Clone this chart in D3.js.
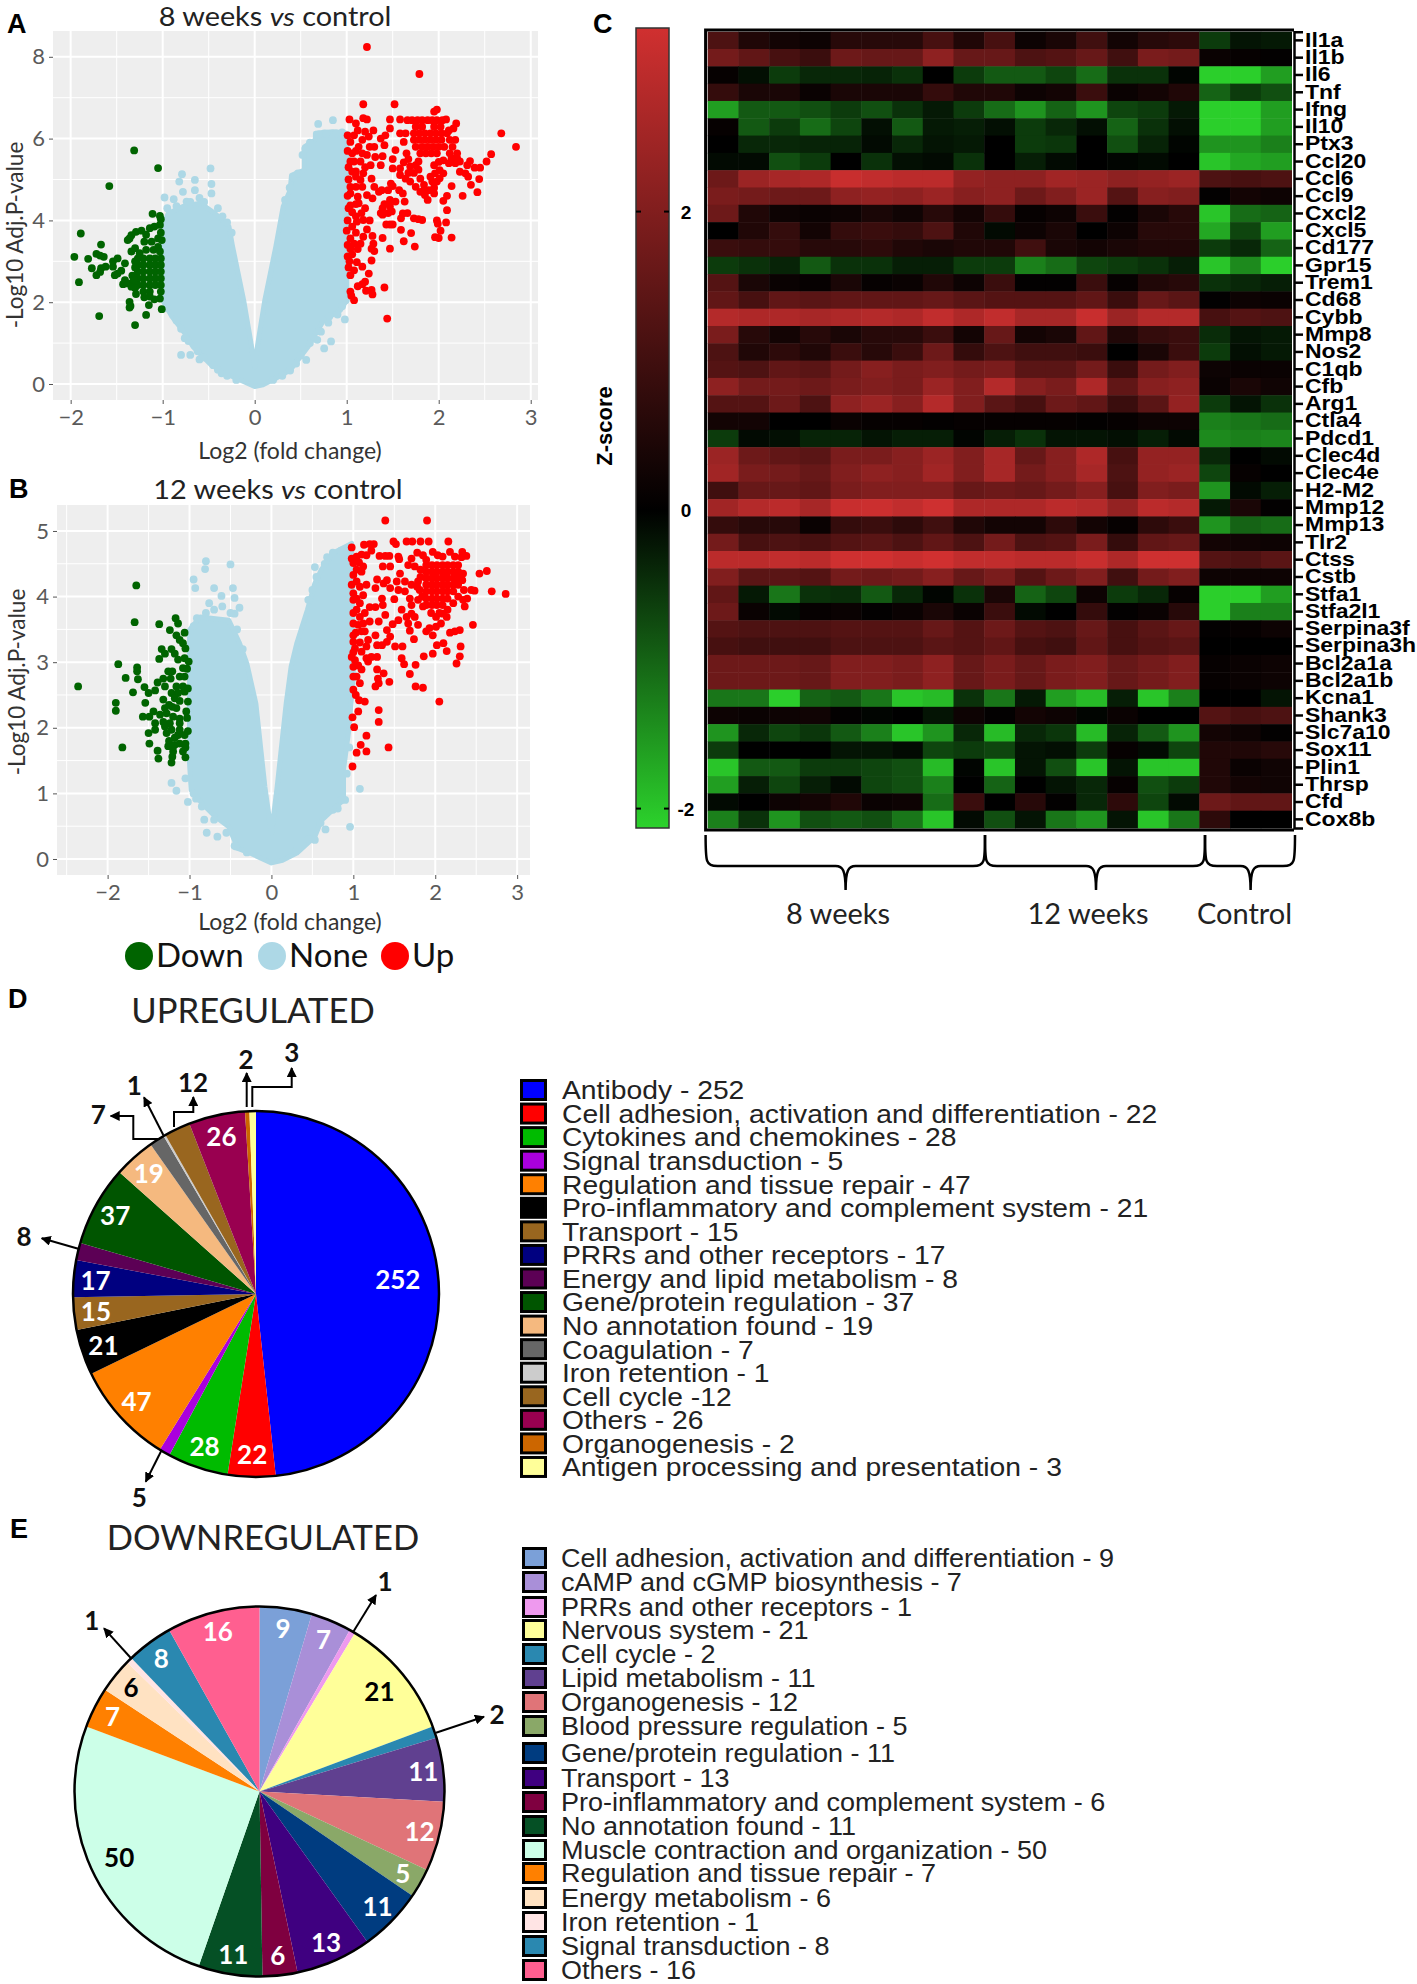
<!DOCTYPE html>
<html>
<head>
<meta charset="utf-8">
<script src="https://cdnjs.cloudflare.com/ajax/libs/d3/7.8.5/d3.min.js"></script>
<style>
  body { margin: 0; background: #fff; }
  text { font-family: Lato, sans-serif; }
  .arial { font-family: "Liberation Sans", Arial, sans-serif; }
</style>
</head>
<body>
<div id="chart"></div>
<script>
// ---- volcano A, 8 weeks: [log2fc, -log10 p]
var upA = [[1.22,8.24],[1.79,7.58],[1.18,6.84],[1.52,6.84],[1.98,6.71],[1.95,6.66],[1.03,6.47],[1.10,6.37],[1.18,6.50],[1.22,6.47],[1.47,6.47],[1.58,6.47],[2.68,6.13],[2.84,5.80],[2.57,5.62],[2.52,5.44],[2.45,5.29],[2.39,5.29],[2.34,5.45],[2.31,5.35],[2.44,5.01],[2.42,4.69],[2.35,4.87],[2.32,5.07],[2.29,5.15],[2.23,5.19],[2.14,4.84],[2.26,4.60],[2.09,4.60],[2.05,4.48],[2.09,4.25],[2.08,3.95],[1.98,4.0],[1.99,3.92],[2.02,3.75],[2.14,3.58],[2.0,3.57],[1.96,3.59],[1.74,3.36],[1.62,3.49],[1.70,3.69],[1.59,3.77],[1.47,3.9],[1.5,3.9],[1.43,3.9],[1.39,3.57],[1.47,3.31],[1.27,3.02],[1.17,2.87],[1.24,2.70],[1.41,2.36],[1.44,1.6],[1.08,2.05],[1.05,2.16],[1.04,2.26],[1.12,2.39],[1.17,2.44],[1.2,2.5],[1.21,2.28],[1.27,2.3],[1.28,2.19],[1.04,2.66],[1.08,2.78],[1.11,2.98],[1.01,3.12],[1.06,3.17],[1.27,3.31],[1.3,3.25],[1.29,3.43],[1.28,3.62],[1.04,3.31],[1.08,3.43],[1.04,3.56],[1.15,3.43],[1.18,3.6],[1.22,3.78],[1.06,3.85],[1.01,4.0],[1.11,3.97],[1.25,4.0],[1.18,4.01],[1.16,4.18],[1.2,4.3],[1.06,4.2],[1.04,4.37],[1.13,4.42],[1.28,4.54],[1.35,4.7],[1.38,4.74],[1.22,4.62],[1.3,4.82],[1.27,5.02],[1.12,4.58],[1.04,4.66],[1.1,4.82],[1.17,4.82],[1.15,4.99],[1.1,5.07],[1.04,4.82],[1.06,5.19],[1.15,5.44],[1.08,5.44],[1.04,5.44],[1.17,5.64],[1.06,5.64],[1.13,5.8],[1.04,5.92],[1.01,6.08],[1.08,6.08],[1.17,5.97],[1.2,6.17],[1.29,6.2],[1.24,6.05],[1.3,5.8],[1.31,5.55],[1.26,5.35],[1.39,5.57],[1.37,5.35],[1.41,5.84],[1.37,6.0],[1.42,6.08],[1.47,6.25],[1.53,5.72],[1.5,5.5],[1.5,5.27],[1.58,6.13],[1.64,6.13],[1.62,5.92],[1.66,6.45],[1.71,6.45],[1.77,6.45],[1.82,6.45],[1.88,6.45],[1.93,6.45],[1.98,6.45],[2.04,6.45],[2.08,6.47],[2.19,6.37],[2.16,6.25],[2.11,6.2],[2.02,6.29],[1.75,6.29],[1.82,6.29],[1.95,6.29],[1.73,6.13],[1.79,6.13],[1.85,6.13],[1.91,6.13],[1.97,6.13],[2.03,6.13],[2.09,6.13],[1.73,5.97],[1.79,5.97],[1.85,5.97],[1.91,5.97],[1.97,5.97],[2.03,5.97],[2.12,5.97],[2.18,5.97],[1.75,5.8],[1.82,5.8],[1.88,5.8],[1.94,5.8],[2.0,5.8],[2.06,5.8],[2.15,5.8],[1.65,5.64],[1.8,5.64],[1.86,5.64],[1.92,5.64],[1.98,5.64],[2.12,5.64],[2.2,5.64],[1.67,5.5],[1.62,5.42],[1.58,5.27],[1.58,5.11],[1.64,5.02],[1.69,4.95],[1.75,4.82],[1.8,4.7],[1.85,4.62],[1.88,4.5],[1.95,4.66],[1.84,4.74],[1.69,5.32],[1.75,5.35],[1.78,5.24],[1.73,5.16],[1.8,5.02],[1.78,5.44],[1.84,4.87],[1.67,5.16],[1.95,5.35],[2.0,5.43],[2.05,5.47],[2.14,5.52],[2.2,5.52],[2.23,5.44],[2.18,5.4],[2.11,5.4],[2.01,5.23],[1.96,5.15],[1.93,4.95],[1.98,4.95],[2.01,5.03],[2.05,5.15],[1.95,4.8],[1.89,4.74],[1.91,5.07],[1.48,4.9],[1.5,4.84],[1.45,4.74],[1.47,4.5],[1.41,4.4],[1.53,4.46],[1.39,4.3],[1.47,4.34],[1.37,4.18],[1.39,4.14],[1.45,4.18],[1.49,4.22],[1.57,4.74],[1.61,4.66],[1.63,4.46],[1.61,4.17],[1.59,4.05],[1.66,4.18],[1.73,4.05],[1.78,4.03],[1.82,4.01],[1.01,5.7],[1.02,5.3],[1.02,5.0],[1.01,4.6],[1.02,4.3],[1.0,3.75],[1.01,3.4],[1.03,3.0],[1.02,2.85],[1.1,5.7],[1.1,5.2],[1.1,4.4],[1.1,4.1],[1.1,3.7],[1.12,3.3],[1.22,5.6],[1.25,5.8],[1.12,6.2],[1.2,5.3],[1.18,5.15]];
var downA = [[-1.31,5.71],[-1.05,5.28],[-1.58,4.84],[-1.11,4.16],[-1.03,4.11],[-1.02,4.03],[-1.89,3.68],[-1.67,3.41],[-1.96,3.11],[-1.81,3.06],[-1.72,3.18],[-1.68,3.14],[-1.64,3.11],[-1.77,2.83],[-1.91,2.49],[-1.69,1.66],[-1.3,1.44],[-1.18,1.69],[-1.01,1.83],[-1.15,1.93],[-1.36,2.01],[-1.35,1.91],[-1.36,1.87],[-1.72,2.66],[-1.68,2.74],[-1.67,2.83],[-1.62,2.87],[-1.52,2.66],[-1.49,2.7],[-1.45,2.77],[-1.54,2.87],[-1.54,3.0],[-1.49,3.07],[-1.41,2.95],[-1.38,3.52],[-1.34,3.64],[-1.36,3.56],[-1.29,3.72],[-1.23,3.75],[-1.14,3.81],[-1.09,3.85],[-1.03,3.89],[-1.18,3.65],[-1.2,3.48],[-1.12,3.48],[-1.05,3.56],[-1.01,3.52],[-1.34,3.24],[-1.3,3.32],[-1.25,3.2],[-1.18,3.28],[-1.1,3.28],[-1.03,3.24],[-1.27,3.07],[-1.21,3.07],[-1.14,3.07],[-1.08,3.07],[-1.02,3.07],[-1.27,2.91],[-1.21,2.91],[-1.14,2.91],[-1.08,2.91],[-1.02,2.91],[-1.27,2.75],[-1.21,2.75],[-1.14,2.75],[-1.08,2.75],[-1.02,2.75],[-1.27,2.58],[-1.21,2.58],[-1.14,2.58],[-1.08,2.58],[-1.02,2.58],[-1.27,2.42],[-1.21,2.42],[-1.14,2.42],[-1.08,2.42],[-1.02,2.42],[-1.21,2.26],[-1.14,2.26],[-1.02,2.26],[-1.41,2.54],[-1.38,2.46],[-1.32,2.5],[-1.43,2.44],[-1.34,2.38],[-1.29,2.2],[-1.2,2.12],[-1.14,2.14],[-1.03,2.09],[-1.09,2.07],[-1.02,3.7],[-1.05,3.35],[-1.3,2.85],[-1.33,2.65],[-1.3,3.0],[-1.31,2.55],[-1.3,2.35]];
// outline of the solid light-blue cloud, then the loose dots at its edge
var noneOutlineA = [[0,-0.06],[-0.28,0.22],[-0.47,0.46],[-0.67,0.91],[-0.76,1.24],[-0.9,1.65],[-1,2.05],[-1,3.85],[-0.94,4.17],[-0.78,4.34],[-0.59,4.42],[-0.43,4.17],[-0.28,3.85],[-0.24,3.36],[-0.12,2.05],[-0.04,1.0],[0,0.42],[0.035,1.0],[0.11,2.05],[0.23,3.36],[0.31,4.34],[0.385,4.74],[0.40,5.1],[0.54,5.23],[0.54,5.8],[0.66,5.97],[0.66,6.13],[0.85,6.17],[1,6.13],[1,2.05],[0.93,1.8],[0.75,1.56],[0.58,0.91],[0.385,0.34],[0.23,0.14],[0.09,-0.02]];
var noneA = [[-0.79,5.13],[-0.82,4.95],[-0.48,5.27],[-0.47,4.89],[-0.47,4.66],[-0.65,4.99],[-0.98,4.56],[-0.88,4.52],[-0.78,4.7],[-0.74,4.46],[-0.65,4.74],[0.69,6.36],[0.85,6.45],[0.89,6.13],[0.755,6.13],[-0.76,1.12],[-0.8,0.71],[-0.7,0.71],[-0.6,0.6],[-0.45,0.46],[-0.36,0.26],[0.83,1.04],[0.72,1.28],[0.68,1.08],[0.755,0.87],[0.56,0.59],[0.385,0.33],[0.98,1.58],[0.81,1.65],[0.99,2.05],[-0.95,4.3],[-0.85,4.35],[-0.7,4.45],[-0.6,4.55],[-0.55,4.45],[-0.4,4.3],[-0.35,4.1],[-0.3,3.95],[-0.25,3.7],[0.33,4.5],[0.38,4.8],[0.42,5.05],[0.47,5.15],[0.52,5.6],[0.55,5.75],[0.6,5.9],[0.7,6.1],[0.78,6.12],[0.95,6.15],[-0.95,1.85],[-0.85,1.55],[-0.8,1.35],[-0.72,1.05],[-0.62,0.8],[-0.55,0.65],[-0.4,0.35],[-0.3,0.2],[-0.2,0.1],[0.2,0.1],[0.3,0.2],[0.45,0.5],[0.5,0.7],[0.6,1.0],[0.7,1.3],[0.8,1.5],[0.9,1.7],[0.95,1.9]];

// ---- volcano B, 12 weeks
var upB = [[1.39,5.16],[1.90,5.16],[0.98,4.75],[1.13,4.79],[1.2,4.8],[1.25,4.8],[1.22,4.7],[1.49,4.84],[1.52,4.8],[1.65,4.84],[1.72,4.84],[1.82,4.84],[1.92,4.84],[2.16,4.84],[0.98,4.58],[1.04,4.61],[1.1,4.64],[1.16,4.63],[1,4.51],[1.07,4.52],[1.12,4.46],[1.04,4.41],[1.1,4.38],[1.32,4.62],[1.39,4.62],[1.44,4.62],[1.36,4.46],[1.45,4.46],[1.55,4.61],[1.56,4.57],[1.57,4.35],[1.67,4.48],[1.71,4.58],[1.78,4.67],[1.85,4.63],[1.75,4.46],[1.82,4.41],[1.97,4.68],[2.18,4.68],[2.33,4.68],[2.38,4.62],[2.32,4.6],[2.24,4.61],[2.09,4.61],[2.03,4.63],[1.89,4.56],[2.34,4.35],[2.54,4.35],[2.63,4.39],[1.89,4.48],[1.96,4.48],[2.02,4.48],[2.09,4.48],[2.15,4.48],[2.22,4.48],[2.28,4.48],[1.89,4.38],[1.96,4.38],[2.02,4.38],[2.09,4.38],[2.15,4.38],[2.22,4.38],[2.28,4.38],[1.89,4.28],[1.96,4.28],[2.02,4.28],[2.09,4.28],[2.15,4.28],[2.22,4.28],[2.28,4.28],[1.89,4.18],[1.96,4.18],[2.02,4.18],[2.09,4.18],[2.15,4.18],[2.22,4.18],[2.28,4.18],[1.89,4.08],[1.96,4.08],[2.02,4.08],[2.09,4.08],[2.15,4.08],[2.22,4.08],[1.89,3.97],[1.96,3.97],[2.02,3.97],[2.09,3.97],[2.15,3.97],[1.89,3.87],[1.96,3.87],[2.02,3.87],[2.09,3.87],[2.28,4.23],[2.44,4.1],[2.48,4.09],[2.69,4.08],[2.86,4.04],[2.39,3.97],[2.34,3.95],[2.36,3.85],[2.46,3.57],[2.3,3.49],[2.24,3.47],[2.18,3.45],[2.14,3.69],[2.09,3.74],[2.01,3.69],[2.07,3.59],[2.01,3.54],[1.97,3.41],[1.89,3.47],[1.93,3.52],[1.85,3.85],[1.79,3.57],[1.74,3.35],[1.69,3.48],[1.67,3.59],[1.75,3.69],[1.71,3.74],[1.65,3.69],[1.59,3.8],[1.55,3.64],[1.48,3.58],[1.5,3.96],[1.69,3.97],[1.63,4.08],[1.55,4.1],[1.45,4.13],[1.53,4.23],[1.63,4.23],[1.71,4.18],[1.79,4.23],[1.81,4.1],[1.79,3.95],[1.71,3.87],[1,4.33],[1.04,4.23],[0.98,4.18],[1.08,4.15],[1.16,4.18],[1.27,4.13],[1.29,4.26],[1.37,4.2],[1.41,4.25],[1.12,4.02],[1.04,3.97],[1,3.95],[1.2,3.84],[1.27,3.84],[1.35,3.97],[1.36,3.87],[1.04,3.8],[1.08,3.69],[1,3.59],[1.06,3.57],[1.12,3.59],[1.2,3.62],[1.31,3.62],[1.39,3.72],[1.14,3.47],[1.27,3.41],[1.41,3.49],[1.45,3.39],[1,3.41],[1,3.31],[1.02,3.21],[1.1,3.16],[1.16,3.24],[1.18,3.34],[1.1,3.47],[1.03,3.45],[1.29,3.26],[1.35,3.26],[1.41,3.31],[1.51,3.24],[1.6,3.24],[1.59,3.06],[1.62,2.97],[1.76,2.96],[1.69,2.82],[1.76,2.63],[1.85,2.61],[2.05,2.4],[1.86,3.09],[1.97,3.13],[2.02,3.26],[2.1,3.29],[2.14,3.17],[2.31,3.24],[2.3,3.09],[2.26,2.98],[0.98,3.08],[1.02,3.03],[1,2.93],[1.1,2.89],[1.16,3.06],[1.22,3.08],[1.29,3.08],[1.18,3.01],[1.29,2.89],[1.37,2.83],[1.3,2.75],[1.31,2.68],[1.27,2.63],[1.44,2.7],[1.04,2.78],[1.08,2.68],[1,2.58],[1.03,2.5],[1.07,2.42],[1.14,2.4],[1.31,2.27],[1.31,2.09],[1.06,2.25],[0.99,2.16],[1.01,2.01],[1.16,1.88],[1.43,1.7],[1.09,1.74],[1.04,1.62],[1.16,1.64],[0.99,1.41],[1.0,4.05],[1,3.75],[1.0,3.15],[1.0,2.78],[1.08,3.9],[1.14,3.75],[1.08,3.3],[1.06,2.95],[1.82,4.3],[1.78,4.15],[2.33,4.25],[2.35,4.1],[2.28,4.0],[2.22,3.9],[1.84,4.0],[2.15,3.8],[2.05,3.75],[1.95,3.75]];
var downB = [[-1.65,4.17],[-1.67,3.61],[-1.37,3.58],[-1.17,3.67],[-1.14,3.59],[-1.24,3.49],[-1.06,3.45],[-1.16,3.41],[-1.12,3.34],[-1.08,3.29],[-1.05,3.21],[-1.34,3.2],[-1.22,3.2],[-1.3,3.13],[-1.18,3.13],[-1.37,3.05],[-1.14,3.04],[-1.06,3.06],[-1.01,3.01],[-1.08,2.91],[-1.87,2.97],[-1.64,2.92],[-1.64,2.86],[-1.78,2.76],[-1.63,2.74],[-2.36,2.63],[-1.69,2.54],[-1.55,2.62],[-1.5,2.53],[-1.42,2.57],[-1.39,2.69],[-1.32,2.75],[-1.26,2.86],[-1.21,2.86],[-1.23,2.75],[-1.12,2.78],[-1.06,2.78],[-1.3,2.63],[-1.16,2.63],[-1.08,2.63],[-1.22,2.53],[-1.14,2.53],[-1.06,2.55],[-1.32,2.43],[-1.12,2.41],[-1.54,2.38],[-1.9,2.38],[-1.9,2.26],[-1.21,2.32],[-1.16,2.3],[-1.04,2.25],[-1.44,2.25],[-1.57,2.17],[-1.49,2.17],[-1.36,2.2],[-1.28,2.22],[-1.2,2.17],[-1.12,2.14],[-1.42,2.07],[-1.32,2.09],[-1.24,2.07],[-1.3,2.02],[-1.12,2.07],[-1.42,1.97],[-1.5,1.92],[-1.28,1.92],[-1.22,1.97],[-1.14,1.89],[-1.06,1.89],[-1.49,1.76],[-1.82,1.7],[-1.26,1.72],[-1.18,1.74],[-1.12,1.76],[-1.05,1.76],[-1.39,1.65],[-1.38,1.53],[-1.2,1.64],[-1.21,1.56],[-1.22,1.47],[-1.08,1.64],[-1.05,1.55],[-1.03,2.9],[-1.02,2.6],[-1.02,2.4],[-1.03,2.15],[-1.02,1.95],[-1.05,1.7],[-1.18,2.45],[-1.25,2.35],[-1.3,2.3],[-1.12,1.97],[-1.18,1.85],[-1.25,1.8],[-1.2,1.72]];
var noneOutlineB = [[0,-0.06],[-0.26,0.09],[-0.41,0.16],[-0.52,0.49],[-0.69,0.65],[-0.85,0.85],[-0.98,1.05],[-1,1.46],[-1,3.49],[-0.87,3.69],[-0.52,3.64],[-0.39,3.29],[-0.3,2.98],[-0.19,2.37],[-0.08,1.1],[0,0.39],[0.07,1.1],[0.18,2.37],[0.24,2.93],[0.31,3.29],[0.44,3.8],[0.53,4.2],[0.61,4.41],[0.75,4.66],[0.98,4.81],[1,2.78],[0.94,1.92],[0.88,1.36],[0.88,0.9],[0.61,0.59],[0.53,0.34],[0.31,0.09],[0.135,-0.02]];
var noneB = [[-0.8,4.54],[-0.81,4.42],[-0.5,4.49],[-0.95,4.26],[-0.93,4.13],[-0.7,4.13],[-0.47,4.13],[-0.45,3.98],[-0.61,4.01],[-0.76,3.9],[-0.39,3.83],[-0.45,3.74],[-0.91,3.67],[-1.22,1.16],[-1.16,1.04],[-1.05,1.23],[-1.02,0.87],[-0.92,0.92],[-0.82,0.6],[-0.79,0.4],[-0.66,0.34],[-0.43,0.19],[1.08,1.07],[0.96,0.49],[0.81,0.77],[0.66,0.45],[0.53,0.29],[0.9,0.9],[0.53,4.45],[0.75,4.67],[0.68,4.6],[-0.95,3.55],[-0.8,3.75],[-0.7,3.8],[-0.6,3.85],[-0.5,3.75],[-0.42,3.5],[-0.35,3.2],[0.45,3.95],[0.5,4.1],[0.55,4.3],[0.65,4.5],[0.85,4.7],[0.95,4.75],[-0.95,1.0],[-0.85,0.8],[-0.7,0.6],[-0.55,0.4],[-0.45,0.2],[-0.3,0.1],[0.3,0.12],[0.45,0.3],[0.6,0.55],[0.75,0.75],[0.85,0.9],[0.92,1.3],[0.95,1.7]];

// ---- heatmap
var genes = ["Il1a","Il1b","Il6","Tnf","Ifng","Il10","Ptx3","Ccl20","Ccl6","Ccl9","Cxcl2","Cxcl5","Cd177","Gpr15","Trem1","Cd68","Cybb","Mmp8","Nos2","C1qb","Cfb","Arg1","Ctla4","Pdcd1","Clec4d","Clec4e","H2-M2","Mmp12","Mmp13","Tlr2","Ctss","Cstb","Stfa1","Stfa2l1","Serpina3f","Serpina3h","Bcl2a1a","Bcl2a1b","Kcna1","Shank3","Slc7a10","Sox11","Plin1","Thrsp","Cfd","Cox8b"];
var zScores = [
[1.2,.5,.3,.2,.6,.6,.6,1.1,.5,1.1,.2,.4,1.0,.3,.6,.7,-.6,-.2,-.25],
[1.8,1.5,1.1,.9,1.7,1.6,1.6,2.2,1.6,1.6,1.2,1.3,1.6,1.0,1.9,1.8,.15,.1,.05],
[.1,-.15,-.6,-.4,-.4,-.35,-.5,0,-.6,-.9,-.9,-.7,-1.1,-.5,-.5,-.05,-2.1,-2.1,-1.6],
[.8,.4,.4,.15,.4,.4,.4,.8,.5,.5,.2,.3,.9,.15,.3,.5,-1.0,-.6,-.8],
[-1.6,-.9,-.9,-.8,-.6,-.8,-.5,-.25,-.6,-1.1,-1.5,-1.0,-1.5,-.7,-.6,-.25,-2.1,-2.1,-1.6],
[.1,-.9,-.6,-1.1,-.7,-.15,-.9,-.25,-.3,-.15,-.6,-.4,-.15,-1.0,-.5,-.15,-2.1,-2.1,-1.6],
[0,-.4,-.4,-.35,-.35,-.1,-.4,-.2,-.25,0,-.6,-.55,0,-.8,-.35,-.05,-1.5,-1.5,-1.3],
[-.1,-.1,-.8,-.6,0,-.5,-.15,-.1,-.5,0,-.3,-.1,0,-.05,-.1,0,-2.0,-1.7,-1.6],
[1.7,2.4,2.6,2.7,3.1,3.0,2.9,2.9,2.3,2.2,2.2,2.5,2.4,2.2,2.3,2.4,1.2,1.1,1.2],
[1.9,1.8,1.7,1.7,2.2,2.3,2.2,2.4,2.1,2.2,1.7,2.0,2.4,1.3,2.1,2.0,.05,.3,.2],
[1.7,.5,.2,.15,.2,.4,.25,.6,.3,.8,.1,.2,.9,.05,.4,.6,-2.0,-1.1,-1.0],
[0,.5,.8,.3,.8,.9,.8,1.2,.5,-.1,.2,.4,0,.2,.6,.6,-1.7,-.7,-1.6],
[.9,.8,.8,.6,.6,.7,.5,.4,.5,.5,1.0,.4,.3,.4,.5,.5,-.6,-.4,-1.0],
[-.6,-.5,-.35,-.9,-.5,-.5,-.3,-.3,-.6,-.6,-1.3,-1.1,-.7,-.6,-.5,-.3,-2.0,-1.4,-2.1],
[1.3,.4,.15,.1,.4,.1,.15,.5,.2,.9,.05,.05,.9,.1,.5,.6,-.5,-.4,-.3],
[1.5,1.1,1.5,1.4,1.5,1.5,1.5,1.6,1.4,1.3,1.3,1.3,1.5,.9,1.6,1.4,.05,.2,.15],
[2.8,2.7,2.7,2.6,2.7,2.8,2.7,3.0,2.7,3.0,2.6,2.6,3.1,2.4,2.8,2.8,1.1,1.3,1.2],
[1.9,.6,.3,.6,.4,.6,.6,.9,.3,1.6,.3,.4,1.5,.5,.8,.9,-.45,-.2,-.25],
[1.2,.5,.7,.5,.9,.6,.9,1.7,.8,1.2,1.0,1.0,.9,0,.4,.9,-.6,-.15,-.25],
[1.3,1.2,1.5,1.4,1.8,2.1,1.9,2.0,1.8,1.9,1.4,1.4,1.8,.9,1.8,2.0,.2,.15,.15],
[2.2,1.8,1.8,1.7,1.9,2.0,1.9,2.4,2.0,2.8,2.1,1.9,2.7,1.5,2.1,2.2,.15,.4,.25],
[1.3,1.3,1.7,1.2,2.2,2.4,2.1,2.8,2.0,1.4,1.1,1.7,1.5,.9,1.4,2.3,-.6,-.2,-.5],
[.3,.3,0,0,.15,.1,.1,.05,.1,.1,.1,.1,.05,.1,.2,.2,-1.3,-1.2,-1.1],
[-.6,-.1,-.15,-.35,-.35,-.2,-.3,-.3,-.05,-.3,-.5,-.2,-.2,-.15,-.3,-.1,-1.4,-1.3,-1.35],
[2.4,1.7,1.5,1.4,1.9,1.9,2.1,2.4,2.0,2.6,1.6,2.1,2.7,1.1,2.3,2.3,-.4,0,-.1],
[2.5,1.9,1.8,1.6,2.0,2.2,2.1,2.5,2.0,2.6,1.8,2.1,2.6,1.2,2.3,2.4,-.7,.1,0],
[1.0,1.6,1.6,1.5,1.9,2.0,2.0,2.0,1.6,1.7,1.6,1.8,2.1,1.1,2.0,1.9,-1.5,-.1,-.3],
[2.5,2.8,2.9,2.6,3.1,3.15,3.0,3.2,2.7,2.7,2.7,2.9,2.8,2.3,2.9,2.8,-.25,.4,.05],
[.8,.6,.6,.15,.8,.9,.7,1.0,.5,.3,.3,.7,.3,.1,.7,.9,-1.5,-1.0,-1.1],
[1.8,1.1,1.2,1.1,1.3,1.4,1.2,1.5,1.2,1.8,1.2,1.3,1.9,.8,1.5,1.6,.3,.25,.2],
[2.9,2.9,3.0,2.9,3.2,3.25,3.1,3.3,3.0,3.0,2.9,2.9,3.1,2.7,3.2,3.2,1.3,1.2,1.4],
[2.0,1.4,1.4,1.3,1.8,1.7,1.8,2.1,1.6,1.9,1.3,1.7,2.0,1.0,1.8,2.0,.2,.2,.2],
[1.5,-.25,-1.2,-.5,-.45,-.9,-.4,-.05,-.5,.4,-1.0,-.7,.2,-.6,-.4,.1,-2.1,-2.1,-1.6],
[1.7,.15,-.1,.1,.15,.05,.15,.4,.15,.9,-.1,0,.8,.05,.15,.6,-2.1,-1.3,-1.3],
[1.3,1.2,1.2,1.2,1.3,1.3,1.3,1.6,1.3,1.7,1.3,1.2,1.6,1.1,1.4,1.6,.05,.1,.2],
[1.1,1.0,1.0,1.0,1.2,1.2,1.2,1.4,1.3,1.5,1.1,1.0,1.5,1.1,1.3,1.4,0,0,0],
[1.7,1.7,1.7,1.6,2.0,2.0,1.9,2.2,1.6,1.9,1.6,1.9,2.0,1.6,1.8,2.0,.1,.15,.2],
[1.7,1.7,1.7,1.6,2.0,2.0,1.9,2.2,1.6,1.9,1.6,1.9,2.0,1.6,1.8,2.0,.1,.15,.2],
[-1.2,-1.2,-2.1,-1.0,-.9,-1.2,-2.0,-1.9,-.5,-1.2,-.25,-1.6,-1.9,-.3,-2.0,-1.3,0,0,-.2],
[.2,.15,.2,.25,.05,-.05,0,-.2,.2,.05,.3,.2,-.05,.15,0,0,1.3,1.1,1.2],
[-1.5,-.4,-.7,-.55,-.9,-1.3,-2.0,-1.5,-.4,-1.9,-.4,-.55,-1.9,-.35,-.9,-1.5,.3,.2,.05],
[-.6,0,0,0,-.2,-.2,-.1,-.7,-.6,-.7,-.2,-.15,-.6,.1,-.1,-.7,.5,.5,.6],
[-2.0,-.9,-.9,-.6,-.6,-.7,-.8,-1.9,-.05,-2.0,-.2,-.8,-2.0,-.2,-2.0,-2.0,.5,.15,.25],
[-1.6,-.3,-.7,-.3,-.1,-.7,-.8,-1.3,0,-1.0,0,-.2,-.4,.1,-.8,-.6,.5,.3,.25],
[-.1,0,.2,.3,.5,.15,.2,-1.1,.9,0,.6,.05,-.4,.7,-.7,-.1,1.7,1.5,1.5],
[-1.3,-.5,-1.5,-.8,-.9,-.8,-1.2,-2.0,-.1,-.8,-.2,-1.2,-1.5,-.2,-2.0,-1.2,.7,0,0]
];
var groupNames = ["8 weeks","12 weeks","Control"];

// ---- pies
var upNames = ["Antibody","Cell adhesion, activation and differentiation","Cytokines and chemokines","Signal transduction","Regulation and tissue repair","Pro-inflammatory and complement system","Transport","PRRs and other receptors","Energy and lipid metabolism","Gene/protein regulation","No annotation found","Coagulation","Iron retention","Cell cycle","Others","Organogenesis","Antigen processing and presentation"];
var upCounts = [252,22,28,5,47,21,15,17,8,37,19,7,1,12,26,2,3];
var upColors = ["#0000ff","#ff0000","#00bb00","#aa00dd","#ff8000","#000000","#99661f","#000080","#5c0055","#005500","#f5b97f","#666666","#cccccc","#99661f","#990050","#cc6600","#ffff99"];
var downNames = ["Cell adhesion, activation and differentiation","cAMP and cGMP biosynthesis","PRRs and other receptors","Nervous system","Cell cycle","Lipid metabolism","Organogenesis","Blood pressure regulation","Gene/protein regulation","Transport","Pro-inflammatory and complement system","No annotation found","Muscle contraction and organization","Regulation and tissue repair","Energy metabolism","Iron retention","Signal transduction","Others"];
var downCounts = [9,7,1,21,2,11,12,5,11,13,6,11,50,7,6,1,8,16];
var downColors = ["#7ba0d8","#a98fd8","#ee99ee","#ffff99","#2a88b0","#604090","#e07478","#8aa868","#003c80","#3f0080","#7f0040","#055025","#ccffe8","#ff8000","#ffe2c2","#ffe4e4","#2a88b0","#ff5f90"];

var svg = d3.select("#chart").append("svg").attr("width", 1417).attr("height", 1984);

// arrow head used by all the pie callouts
svg.append("defs").append("marker")
    .attr("id", "head").attr("viewBox", "0 0 10 10").attr("refX", 9).attr("refY", 5)
    .attr("markerWidth", 10).attr("markerHeight", 10).attr("markerUnits", "userSpaceOnUse")
    .attr("orient", "auto")
  .append("path").attr("d", "M0,0L10,5L0,10z").attr("fill", "#000");

function letter(t, x, y) {
    svg.append("text").attr("class", "arial").attr("x", x).attr("y", y)
        .attr("font-size", 27).attr("font-weight", "bold").attr("fill", "#000").text(t);
}
letter("A", 7, 33);
letter("B", 9, 498);
letter("C", 593, 33);
letter("D", 8, 1008);
letter("E", 10, 1538);

// ---- volcano plots
function volcano(o) {
    var x = d3.scaleLinear().domain(o.xDomain).range([o.left, o.right]);
    var y = d3.scaleLinear().domain(o.yDomain).range([o.bottom, o.top]);
    var g = svg.append("g");

    g.append("rect").attr("x", o.left).attr("y", o.top)
        .attr("width", o.right - o.left).attr("height", o.bottom - o.top).attr("fill", "#eeeeee");

    // grid, minor first
    g.selectAll(".vminor").data(o.xMinor).enter().append("line")
        .attr("x1", d => x(d)).attr("x2", d => x(d)).attr("y1", o.top).attr("y2", o.bottom)
        .attr("stroke", "#fff").attr("stroke-width", 1);
    g.selectAll(".hminor").data(o.yMinor).enter().append("line")
        .attr("y1", d => y(d)).attr("y2", d => y(d)).attr("x1", o.left).attr("x2", o.right)
        .attr("stroke", "#fff").attr("stroke-width", 1);
    g.selectAll(".vmajor").data(o.xTicks).enter().append("line")
        .attr("x1", d => x(d)).attr("x2", d => x(d)).attr("y1", o.top).attr("y2", o.bottom)
        .attr("stroke", "#fff").attr("stroke-width", 2);
    g.selectAll(".hmajor").data(o.yTicks).enter().append("line")
        .attr("y1", d => y(d)).attr("y2", d => y(d)).attr("x1", o.left).attr("x2", o.right)
        .attr("stroke", "#fff").attr("stroke-width", 2);

    // axes
    var ax = g.append("g").attr("transform", "translate(0," + o.bottom + ")")
        .call(d3.axisBottom(x).tickValues(o.xTicks).tickSize(4).tickPadding(5).tickFormat(d3.format("d")));
    var ay = g.append("g").attr("transform", "translate(" + o.left + ",0)")
        .call(d3.axisLeft(y).tickValues(o.yTicks).tickSize(4).tickPadding(4).tickFormat(d3.format("d")));
    [ax, ay].forEach(function(a) {
        a.select(".domain").remove();
        a.selectAll("line").attr("stroke", "#555");
        a.selectAll("text").attr("fill", "#5a5a5a").attr("font-size", 22)
            .style("font-family", "Lato, sans-serif");
    });

    // none cloud then its loose dots
    g.append("path").datum(o.outline)
        .attr("d", d3.line().x(d => x(d[0])).y(d => y(d[1])).curve(d3.curveLinearClosed))
        .attr("fill", "#add8e6").attr("stroke", "#add8e6").attr("stroke-width", 5).attr("stroke-linejoin", "round");
    var sets = [[o.none, "#add8e6"], [o.down, "#006400"], [o.up, "#ff0000"]];
    sets.forEach(function(s) {
        g.append("g").selectAll("circle").data(s[0]).enter().append("circle")
            .attr("cx", d => x(d[0])).attr("cy", d => y(d[1])).attr("r", 3.9).attr("fill", s[1]);
    });

    // title with italic vs, the source text is a little wider than the font
    var title = g.append("text").attr("transform", "translate(" + o.titleX + "," + o.titleY + ") scale(1.11,1)")
        .attr("text-anchor", "middle").attr("font-size", 26).attr("fill", "#222");
    title.append("tspan").text(o.title + " ");
    title.append("tspan").attr("font-style", "italic").text("vs");
    title.append("tspan").text(" control");

    g.append("text").attr("x", o.xLabelX).attr("y", o.xLabelY).attr("text-anchor", "middle")
        .attr("font-size", 23).attr("fill", "#333").text("Log2 (fold change)");
    g.append("text").attr("transform", "translate(" + o.yLabelX + "," + o.yLabelY + ") rotate(-90)")
        .attr("text-anchor", "middle").attr("font-size", 22.5).attr("fill", "#333").text("-Log10 Adj.P-value");
}

volcano({
    left: 53, right: 538, top: 31, bottom: 400,
    xDomain: [-2.192, 3.079], yDomain: [-0.391, 8.631],
    xTicks: [-2,-1,0,1,2,3], yTicks: [0,2,4,6,8],
    xMinor: [-1.5,-0.5,0.5,1.5,2.5], yMinor: [1,3,5,7],
    up: upA, down: downA, none: noneA, outline: noneOutlineA,
    title: "8 weeks", titleX: 275, titleY: 26,
    xLabelX: 290, xLabelY: 459, yLabelX: 23, yLabelY: 235
});
volcano({
    left: 57, right: 530, top: 505, bottom: 875,
    xDomain: [-2.618, 3.157], yDomain: [-0.244, 5.396],
    xTicks: [-2,-1,0,1,2,3], yTicks: [0,1,2,3,4,5],
    xMinor: [-2.5,-1.5,-0.5,0.5,1.5,2.5], yMinor: [0.5,1.5,2.5,3.5,4.5],
    up: upB, down: downB, none: noneB, outline: noneOutlineB,
    title: "12 weeks", titleX: 278, titleY: 499,
    xLabelX: 290, xLabelY: 930, yLabelX: 25, yLabelY: 682
});

// Down / None / Up key under panel B
var keyNames = ["Down", "None", "Up"];
var keyColors = ["#006400", "#add8e6", "#ff0000"];
var keyCx = {Down: 139, None: 272, Up: 395};
keyNames.forEach(function(k, i) {
    svg.append("circle").attr("cx", keyCx[k]).attr("cy", 956).attr("r", 14).attr("fill", keyColors[i]);
    svg.append("text").attr("x", keyCx[k] + 17).attr("y", 967).attr("font-size", 33).attr("fill", "#111").text(k);
});

// ---- heatmap
var zColor = d3.scaleLinear().domain([-2.13, 0, 3.23])
    .range(["rgb(44,210,44)", "#000", "rgb(208,48,48)"]).clamp(true);
var hx = d3.scaleBand().domain(d3.range(19)).range([707.7, 1291.5]);
var hy = d3.scaleBand().domain(genes).range([31.7, 828]);

zScores.forEach(function(row, i) {
    svg.append("g").selectAll("rect").data(row).enter().append("rect")
        .attr("x", (d, j) => hx(j)).attr("y", hy(genes[i]))
        .attr("width", hx.bandwidth() + 0.5).attr("height", hy.bandwidth() + 0.5)
        .attr("fill", d => zColor(d));
});
svg.append("path").attr("d", "M1294,30H705.6V830H1294").attr("fill", "none").attr("stroke", "#000").attr("stroke-width", 3);

var geneAxis = svg.append("g").attr("transform", "translate(1294,0)")
    .call(d3.axisRight(hy).tickSize(9).tickPadding(2));
geneAxis.select(".domain").attr("stroke-width", 2.5);
geneAxis.selectAll("line").attr("stroke", "#000").attr("stroke-width", 2.5);
// wide, low lettering so the rows only touch as they do in the source
geneAxis.selectAll("text").attr("class", "arial").attr("font-size", 19.5).attr("font-weight", "bold").attr("fill", "#000")
    .attr("x", 11 / 1.18).attr("transform", "scale(1.18,1)")
    .style("font-family", '"Liberation Sans", Arial, sans-serif');

// colour bar
var zBar = d3.scaleLinear().domain([-2.13, 3.23]).range([828, 28]);
var grad = svg.select("defs").append("linearGradient").attr("id", "zgrad")
    .attr("x1", 0).attr("x2", 0).attr("y1", 1).attr("y2", 0);
[-2.13, 0, 3.23].forEach(function(z) {
    grad.append("stop").attr("offset", (z + 2.13) / 5.36).attr("stop-color", zColor(z));
});
svg.append("rect").attr("x", 636).attr("y", zBar(3.23)).attr("width", 33).attr("height", 800)
    .attr("fill", "url(#zgrad)").attr("stroke", "#333").attr("stroke-width", 1.5);
[2, 0, -2].forEach(function(z) {
    if (z !== 0) {
        svg.append("line").attr("x1", 636).attr("x2", 641).attr("y1", zBar(z)).attr("y2", zBar(z)).attr("stroke", "#000").attr("stroke-width", 2);
        svg.append("line").attr("x1", 664).attr("x2", 669).attr("y1", zBar(z)).attr("y2", zBar(z)).attr("stroke", "#000").attr("stroke-width", 2);
    }
    svg.append("text").attr("class", "arial").attr("x", 686).attr("y", zBar(z) + 7).attr("text-anchor", "middle")
        .attr("font-size", 19).attr("font-weight", "bold").attr("fill", "#000").text(z);
});
svg.append("text").attr("class", "arial").attr("transform", "translate(612,426) rotate(-90)")
    .attr("text-anchor", "middle").attr("font-size", 22).attr("font-weight", "bold").attr("fill", "#000").text("Z-score");

// curly brackets under the heatmap
function brace(x0, x1, xm) {
    var t = 835, m = 866, b = 890;
    return "M" + x0 + "," + t + "C" + x0 + "," + (m - 4) + " " + x0 + "," + m + " " + (x0 + 12) + "," + m +
        "H" + (xm - 10) + "C" + (xm - 3) + "," + m + " " + xm + "," + (m + 4) + " " + xm + "," + b +
        "C" + xm + "," + (m + 4) + " " + (xm + 3) + "," + m + " " + (xm + 10) + "," + m +
        "H" + (x1 - 12) + "C" + x1 + "," + m + " " + x1 + "," + (m - 4) + " " + x1 + "," + t;
}
[[705.6, 985, 845.6, 838], [985, 1205, 1096, 1088], [1205, 1295, 1250.6, 1244.5]].forEach(function(d, i) {
    svg.append("path").attr("d", brace(d[0], d[1], d[2])).attr("fill", "none").attr("stroke", "#000").attr("stroke-width", 2.5);
    svg.append("text").attr("x", d[3]).attr("y", 924).attr("text-anchor", "middle").attr("font-size", 29).attr("fill", "#222").text(groupNames[i]);
});

// ---- pies
function pieChart(o) {
    var arcs = d3.pie().sort(null).value(d => d)(o.counts);
    var arc = d3.arc().innerRadius(0).outerRadius(o.r);
    var g = svg.append("g").attr("transform", "translate(" + o.cx + "," + o.cy + ")");
    g.selectAll("path").data(arcs).enter().append("path")
        .attr("d", arc).attr("fill", (d, i) => o.colors[i]);
    g.append("circle").attr("r", o.r).attr("fill", "none").attr("stroke", "#000").attr("stroke-width", 2.5);
    arcs.forEach(function(d, i) {
        if (o.hide.indexOf(i) >= 0) return;
        var lr = (o.labelR[i] || o.defaultLabelR), a = (d.startAngle + d.endAngle) / 2;
        g.append("text").attr("x", lr * Math.sin(a)).attr("y", -lr * Math.cos(a) + (o.labelDy[i] || 0)).attr("dy", "0.36em")
            .attr("text-anchor", "middle").attr("font-size", 26).attr("font-weight", "bold")
            .attr("fill", o.dark.indexOf(i) >= 0 ? "#000" : "#fff").text(d.value);
    });
}
pieChart({ cx: 256, cy: 1294, r: 183, counts: upCounts, colors: upColors,
    hide: [3,8,11,12,13,15,16], dark: [], defaultLabelR: 161, labelR: {0: 142}, labelDy: {0: -7} });
pieChart({ cx: 259.5, cy: 1791.5, r: 185, counts: downCounts, colors: downColors,
    hide: [2,4,15], dark: [3,12,14], defaultLabelR: 165, labelR: {3: 156, 12: 155}, labelDy: {} });

svg.append("text").attr("x", 253).attr("y", 1023).attr("text-anchor", "middle").attr("font-size", 34.6).attr("fill", "#222").text("UPREGULATED");
svg.append("text").attr("x", 263).attr("y", 1550).attr("text-anchor", "middle").attr("font-size", 34.5).attr("fill", "#222").text("DOWNREGULATED");

// callouts for the slices too thin to label
var lineGen = d3.line();
var callouts = [
    {t: "2", x: 246, y: 1060, p: [[246.7,1107],[246.7,1073]]},
    {t: "3", x: 291.7, y: 1053, p: [[252.3,1107],[252.3,1087],[291.7,1087],[291.7,1068]]},
    {t: "12", x: 193, y: 1083, p: [[174,1127],[174,1112],[193.3,1112],[193.3,1097]]},
    {t: "1", x: 134.3, y: 1086, p: [[163.3,1135],[144,1097.3]]},
    {t: "7", x: 98.3, y: 1115, p: [[160,1139],[133.3,1139],[133.3,1116],[110.7,1116]]},
    {t: "8", x: 24, y: 1237, p: [[80,1249.3],[41.7,1238.3]]},
    {t: "5", x: 139.3, y: 1498, p: [[161.7,1450],[145.7,1481.7]]},
    {t: "1", x: 385, y: 1582, p: [[352.7,1632.7],[376,1595]]},
    {t: "2", x: 497, y: 1715, p: [[436,1732.7],[484,1716.7]]},
    {t: "1", x: 91.7, y: 1621, p: [[131.7,1659],[104,1628.3]]}
];
callouts.forEach(function(c) {
    svg.append("path").attr("d", lineGen(c.p)).attr("fill", "none").attr("stroke", "#000").attr("stroke-width", 2)
        .attr("marker-end", "url(#head)");
    svg.append("text").attr("x", c.x).attr("y", c.y).attr("dy", "0.36em").attr("text-anchor", "middle")
        .attr("font-size", 26).attr("font-weight", "bold").attr("fill", "#111").text(c.t);
});

// pie legends
function pieLegend(names, counts, colors, rowY, fontSize, stretch, sx, sw, tx, cellCycleTight) {
    names.forEach(function(n, i) {
        var y = rowY[i];
        svg.append("rect").attr("x", sx + 1.5).attr("y", y - 9.5).attr("width", sw - 3).attr("height", 19)
            .attr("fill", colors[i]).attr("stroke", "#000").attr("stroke-width", 3);
        var sep = (cellCycleTight && n === "Cell cycle") ? " -" : " - ";
        svg.append("text").attr("class", "arial").attr("transform", "translate(" + tx + "," + y + ") scale(" + stretch + ",1)")
            .attr("dy", "0.36em").attr("font-size", fontSize).attr("fill", "#222")
            .style("font-family", '"Liberation Sans", Arial, sans-serif').text(n + sep + counts[i]);
    });
}
var upRows = d3.range(17).map(i => 1090 + i * 23.56);
var downRows = [1558,1582,1607,1630,1654,1678,1702,1726,1753,1778,1802,1826,1850,1873,1898,1922,1946,1970];
pieLegend(upNames, upCounts, upColors, upRows, 26, 1.088, 520, 27, 562, true);
pieLegend(downNames, downCounts, downColors, downRows, 25, 1.08, 522, 25, 561, false);
</script>
</body>
</html>
